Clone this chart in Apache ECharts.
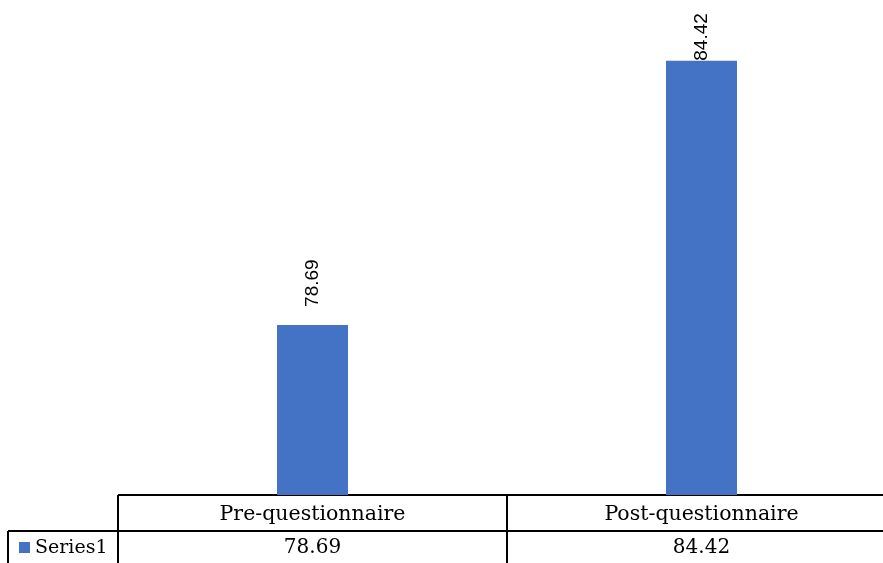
<!DOCTYPE html>
<html lang="en">
  <head>
    <meta charset="UTF-8" />
    <title>Questionnaire chart</title>
    <script src="https://cdn.jsdelivr.net/npm/echarts@6/dist/echarts.min.js"></script>
    <style>
      html, body { margin: 0; padding: 0; background: #fff; overflow: hidden; }
      /* the plot area runs a little past the right edge of the window */
      #main { width: 896px; height: 563px; }
    </style>
  </head>
  <body>
    <div id="main"></div>
    <script type="text/javascript">
      // data
      var categories = ["Pre-questionnaire", "Post-questionnaire"];
      var seriesName = "Series1";
      var values = [78.69, 84.42];

      var tableFont = "DejaVu Serif";
      var barColor = "#4472C4";

      var myChart = echarts.init(document.getElementById("main"));

      var option = {
        animation: false,
        grid: { left: 118, top: 34, right: 0, bottom: 68 },
        xAxis: {
          type: "category",
          data: categories,
          axisLine: { show: false },
          axisTick: { show: false },
          axisLabel: {
            margin: 9,
            fontFamily: tableFont,
            fontSize: 20.5,
            color: "#000"
          }
        },
        yAxis: {
          type: "value",
          min: 75,
          max: 85,
          show: false
        },
        series: [
          {
            name: seriesName,
            type: "bar",
            barWidth: 71,
            itemStyle: { color: barColor },
            label: {
              show: true,
              position: "top",
              rotate: 90,
              align: "left",
              verticalAlign: "middle",
              distance: 18,
              fontFamily: "Liberation Sans",
              fontSize: 19,
              color: "#000"
            },
            data: values.map(function (v, i) {
              // the top label sits on the bar when there is no room above
              if (i === 1) return { value: v, label: { distance: 0 } };
              return v;
            })
          }
        ]
      };

      myChart.setOption(option);

      // data table below the plot
      function drawTable() {
        var lineStyle = { stroke: "#000", lineWidth: 2 };
        var els = [];
        var hLine = function (x1, x2, y) {
          els.push({ type: "line", shape: { x1: x1, y1: y, x2: x2, y2: y }, style: lineStyle, silent: true });
        };
        var vLine = function (x, y1, y2) {
          els.push({ type: "line", shape: { x1: x, y1: y1, x2: x, y2: y2 }, style: lineStyle, silent: true });
        };
        hLine(118, 896, 495);
        hLine(8, 896, 531);
        vLine(8, 531, 563);
        vLine(118, 495, 563);
        vLine(507, 495, 563);

        // legend key and values row
        els.push({ type: "rect", shape: { x: 19, y: 542, width: 11, height: 11 }, style: { fill: barColor }, silent: true });
        els.push({
          type: "text", x: 35, y: 548,
          style: { text: seriesName, fontFamily: tableFont, fontSize: 19, fill: "#000", verticalAlign: "middle" },
          silent: true
        });
        values.forEach(function (v, i) {
          var px = myChart.convertToPixel({ xAxisIndex: 0 }, categories[i]);
          els.push({
            type: "text", x: px, y: 548,
            style: { text: v.toFixed(2), fontFamily: tableFont, fontSize: 20, fill: "#000", align: "center", verticalAlign: "middle" },
            silent: true
          });
        });
        myChart.setOption({ graphic: els });
      }
      drawTable();
    </script>
  </body>
</html>
